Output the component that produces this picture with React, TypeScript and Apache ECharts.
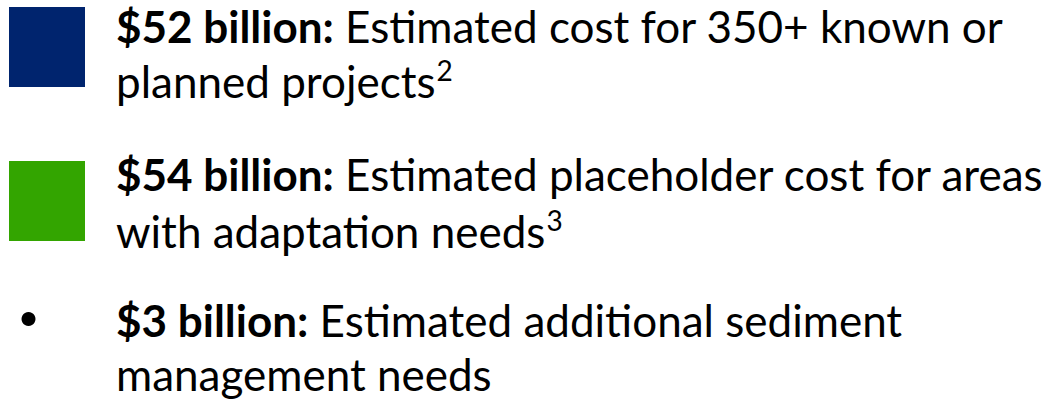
import React, { useEffect, useRef } from "react";
import * as echarts from "echarts";

const amounts = ["$52 billion:", "$54 billion:", "$3 billion:"];
const firstLines = [
  " Estimated cost for 350+ known or",
  " Estimated placeholder cost for areas",
  " Estimated additional sediment",
];
const secondLines = ["planned projects", "with adaptation needs", "management needs"];
const footnotes = ["2", "3", ""];
const markerKinds = ["square", "square", "bullet"];

const FONT = "Lato, 'Noto Sans', sans-serif";
const FS = 44;
const COLORS = ["#00246E", "#33A500", "#000000"];

export default function App() {
  const ref = useRef<HTMLDivElement>(null);
  useEffect(() => {
    if (!ref.current) return;
    const chart = echarts.init(ref.current, undefined, { renderer: "svg" });
    const textX = 116;
    const firstCenters = [26, 174, 320];
    const lineGaps = [55, 57, 54];
    const squareTops = [7, 161];
    const elements: any[] = [];
    amounts.forEach((amt, i) => {
      if (markerKinds[i] === "square") {
        elements.push({
          type: "rect",
          shape: { x: 9, y: squareTops[i], width: 76, height: 80 },
          style: { fill: COLORS[i] },
        });
      } else {
        elements.push({
          type: "circle",
          shape: { cx: 28.5, cy: 319, r: 7 },
          style: { fill: "#000" },
        });
      }
      elements.push({
        type: "text",
        x: textX,
        y: firstCenters[i],
        style: {
          text: `{b|${amt}}{n|${firstLines[i]}}`,
          fill: "#000",
          font: `${FS}px ${FONT}`,
          verticalAlign: "middle",
          rich: {
            b: { fontWeight: "bold", fontSize: FS, fontFamily: FONT, lineHeight: 54 },
            n: { fontSize: FS, fontFamily: FONT, lineHeight: 54 },
          },
        },
      });
      const sup = footnotes[i];
      const lh = sup ? 54 : 42;
      elements.push({
        type: "text",
        x: textX,
        y: firstCenters[i] + lineGaps[i],
        style: {
          text: sup ? `{n|${secondLines[i]}}{s|${sup}}` : `{n|${secondLines[i]}}`,
          fill: "#000",
          font: `${FS}px ${FONT}`,
          verticalAlign: "middle",
          rich: {
            n: { fontSize: FS, fontFamily: FONT, lineHeight: lh },
            s: { fontSize: 28, fontFamily: FONT, lineHeight: lh, verticalAlign: "top", padding: [2, 0, 0, 1] },
          },
        },
      });
    });
    chart.setOption({ animation: false, graphic: { elements } });
    return () => chart.dispose();
  }, []);
  return (
    <div
      ref={ref}
      style={{ position: "fixed", left: 0, top: 0, width: 1063, height: 402, background: "#fff" }}
    />
  );
}
